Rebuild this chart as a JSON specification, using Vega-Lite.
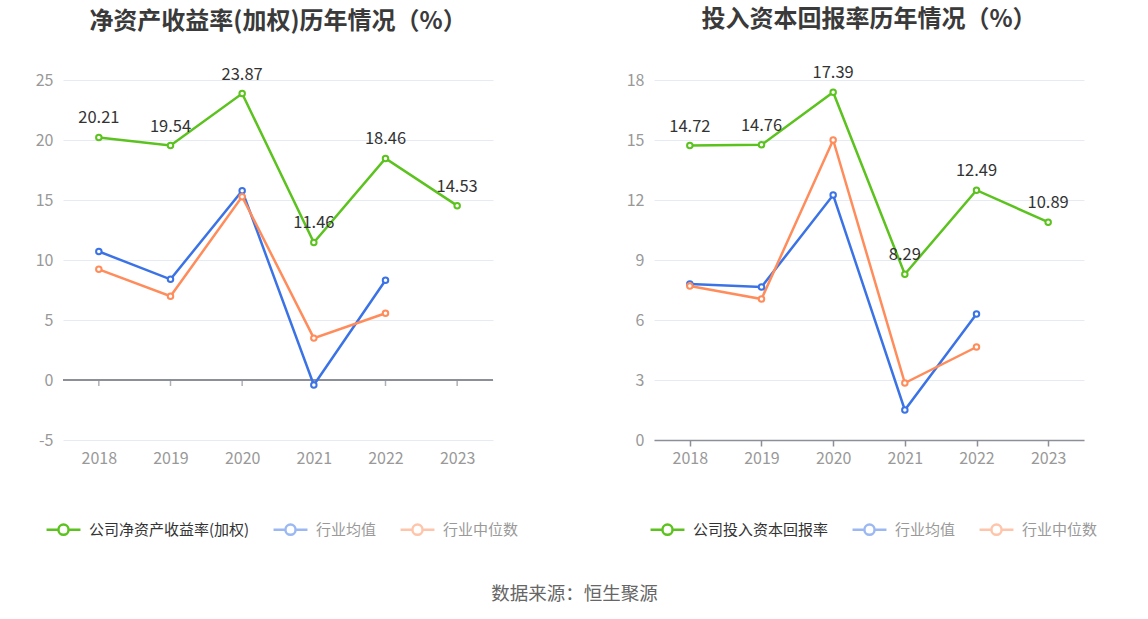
{
  "$schema": "https://vega.github.io/schema/vega-lite/v6.json",
  "background": "#ffffff",
  "padding": {"left": 35, "top": 8, "right": 5, "bottom": 5},
  "datasets": {
    "roe": [
      {"year": "2018", "series": "公司净资产收益率(加权)", "value": 20.21},
      {"year": "2019", "series": "公司净资产收益率(加权)", "value": 19.54},
      {"year": "2020", "series": "公司净资产收益率(加权)", "value": 23.87},
      {"year": "2021", "series": "公司净资产收益率(加权)", "value": 11.46},
      {"year": "2022", "series": "公司净资产收益率(加权)", "value": 18.46},
      {"year": "2023", "series": "公司净资产收益率(加权)", "value": 14.53},
      {"year": "2018", "series": "行业均值", "value": 10.71},
      {"year": "2019", "series": "行业均值", "value": 8.39},
      {"year": "2020", "series": "行业均值", "value": 15.78},
      {"year": "2021", "series": "行业均值", "value": -0.42},
      {"year": "2022", "series": "行业均值", "value": 8.31},
      {"year": "2018", "series": "行业中位数", "value": 9.22},
      {"year": "2019", "series": "行业中位数", "value": 6.98},
      {"year": "2020", "series": "行业中位数", "value": 15.28},
      {"year": "2021", "series": "行业中位数", "value": 3.49},
      {"year": "2022", "series": "行业中位数", "value": 5.56}
    ],
    "roic": [
      {"year": "2018", "series": "公司投入资本回报率", "value": 14.72},
      {"year": "2019", "series": "公司投入资本回报率", "value": 14.76},
      {"year": "2020", "series": "公司投入资本回报率", "value": 17.39},
      {"year": "2021", "series": "公司投入资本回报率", "value": 8.29},
      {"year": "2022", "series": "公司投入资本回报率", "value": 12.49},
      {"year": "2023", "series": "公司投入资本回报率", "value": 10.89},
      {"year": "2018", "series": "行业均值", "value": 7.8},
      {"year": "2019", "series": "行业均值", "value": 7.65},
      {"year": "2020", "series": "行业均值", "value": 12.25},
      {"year": "2021", "series": "行业均值", "value": 1.5},
      {"year": "2022", "series": "行业均值", "value": 6.3},
      {"year": "2018", "series": "行业中位数", "value": 7.7},
      {"year": "2019", "series": "行业中位数", "value": 7.05},
      {"year": "2020", "series": "行业中位数", "value": 15.0},
      {"year": "2021", "series": "行业中位数", "value": 2.85},
      {"year": "2022", "series": "行业中位数", "value": 4.65}
    ]
  },
  "title": {
    "text": "数据来源：恒生聚源",
    "orient": "bottom",
    "anchor": "middle",
    "offset": 45,
    "dx": 8,
    "fontSize": 18.5,
    "fontWeight": "normal",
    "color": "#666666",
    "font": "Noto Sans CJK SC"
  },
  "bounds": "flush",
  "spacing": 161,
  "resolve": {"scale": {"color": "independent", "y": "independent"}},
  "hconcat": [
    {
      "width": 430,
      "height": 360,
      "data": {"name": "roe"},
      "title": {
        "text": "净资产收益率(加权)历年情况（%）",
        "frame": "group",
        "anchor": "middle",
        "offset": 33,
        "fontSize": 24,
        "fontWeight": "bold",
        "color": "#3a3a3a",
        "font": "Noto Sans CJK SC"
      },
      "encoding": {
        "x": {
          "field": "year",
          "type": "ordinal",
          "scale": {"type": "point", "padding": 0.5},
          "axis": {"title": null, "labelAngle": 0, "domain": false, "ticks": false, "labelPadding": 10, "labelFontSize": 16, "labelColor": "#999999", "labelFont": "Noto Sans CJK SC"}
        },
        "y": {
          "field": "value",
          "type": "quantitative",
          "scale": {"domain": [-5, 25], "nice": false, "zero": false},
          "axis": {"title": null, "values": [-5, 0, 5, 10, 15, 20, 25], "labelExpr": "replace(datum.label, '−', '-')", "domain": false, "ticks": false, "labelPadding": 10, "labelFontSize": 16, "labelColor": "#999999", "gridColor": "#e6eaf3", "labelFont": "Noto Sans CJK SC"}
        }
      },
      "layer": [
        {
          "mark": {"type": "rule", "color": "#8c8f99", "strokeWidth": 1.5},
          "encoding": {"y": {"datum": 0}, "x": null}
        },
        {
          "transform": [{"filter": "datum.series == '公司净资产收益率(加权)'"}],
          "mark": {"type": "tick", "orient": "vertical", "size": 6, "thickness": 1.5, "color": "#8c8f99", "yOffset": 3},
          "encoding": {"y": {"datum": 0}}
        },
        {
          "mark": {"type": "line", "strokeWidth": 2.5, "point": {"filled": false, "fill": "#ffffff", "size": 30, "strokeWidth": 2}},
          "encoding": {
            "color": {
              "field": "series",
              "type": "nominal",
              "sort": ["公司净资产收益率(加权)", "行业均值", "行业中位数"],
              "scale": {"domain": ["公司净资产收益率(加权)", "行业均值", "行业中位数"], "range": ["#5bc21e", "#3b73e6", "#ff8c5a"]},
              "legend": {
                "orient": "none",
                "legendX": -18,
                "legendY": 431,
                "direction": "horizontal",
                "title": null,
                "symbolType": "M-1,0H-0.3M0.3,0H1M0.3,0A0.3,0.3,0,1,1,-0.3,0A0.3,0.3,0,1,1,0.3,0",
                "symbolSize": 1150,
                "symbolStrokeWidth": 2.5,
                "symbolFillColor": "#ffffff",
                "symbolOpacity": {"expr": "datum.index == 0 ? 1 : 0.5"},
                "labelColor": {"expr": "datum.index == 0 ? '#333333' : '#999999'"},
                "labelFontSize": 15,
                "labelFont": "Noto Sans CJK SC",
                "labelOffset": 7,
                "columnPadding": 18,
                "labelLimit": 300
              }
            }
          }
        },
        {
          "transform": [{"filter": "datum.series == '公司净资产收益率(加权)'"}],
          "mark": {"type": "text", "dy": -19, "fontSize": 16.5, "color": "#333333", "font": "Noto Sans CJK SC"},
          "encoding": {"text": {"field": "value", "type": "quantitative", "format": ".2f"}}
        }
      ]
    },
    {
      "width": 430,
      "height": 360,
      "data": {"name": "roic"},
      "title": {
        "text": "投入资本回报率历年情况（%）",
        "frame": "group",
        "anchor": "middle",
        "offset": 33,
        "fontSize": 24,
        "fontWeight": "bold",
        "color": "#3a3a3a",
        "font": "Noto Sans CJK SC"
      },
      "encoding": {
        "x": {
          "field": "year",
          "type": "ordinal",
          "scale": {"type": "point", "padding": 0.5},
          "axis": {"title": null, "labelAngle": 0, "domainColor": "#8c8f99", "domainWidth": 1.5, "tickColor": "#8c8f99", "tickWidth": 1.5, "tickSize": 6, "labelPadding": 4, "labelFontSize": 16, "labelColor": "#999999", "labelFont": "Noto Sans CJK SC"}
        },
        "y": {
          "field": "value",
          "type": "quantitative",
          "scale": {"domain": [0, 18], "nice": false},
          "axis": {"title": null, "values": [0, 3, 6, 9, 12, 15, 18], "domain": false, "ticks": false, "labelPadding": 10, "labelFontSize": 16, "labelColor": "#999999", "gridColor": "#e6eaf3", "labelFont": "Noto Sans CJK SC"}
        }
      },
      "layer": [
        {
          "mark": {"type": "line", "strokeWidth": 2.5, "point": {"filled": false, "fill": "#ffffff", "size": 30, "strokeWidth": 2}},
          "encoding": {
            "color": {
              "field": "series",
              "type": "nominal",
              "sort": ["公司投入资本回报率", "行业均值", "行业中位数"],
              "scale": {"domain": ["公司投入资本回报率", "行业均值", "行业中位数"], "range": ["#5bc21e", "#3b73e6", "#ff8c5a"]},
              "legend": {
                "orient": "none",
                "legendX": -5,
                "legendY": 431,
                "direction": "horizontal",
                "title": null,
                "symbolType": "M-1,0H-0.3M0.3,0H1M0.3,0A0.3,0.3,0,1,1,-0.3,0A0.3,0.3,0,1,1,0.3,0",
                "symbolSize": 1150,
                "symbolStrokeWidth": 2.5,
                "symbolFillColor": "#ffffff",
                "symbolOpacity": {"expr": "datum.index == 0 ? 1 : 0.5"},
                "labelColor": {"expr": "datum.index == 0 ? '#333333' : '#999999'"},
                "labelFontSize": 15,
                "labelFont": "Noto Sans CJK SC",
                "labelOffset": 7,
                "columnPadding": 18,
                "labelLimit": 300
              }
            }
          }
        },
        {
          "transform": [{"filter": "datum.series == '公司投入资本回报率'"}],
          "mark": {"type": "text", "dy": -19, "fontSize": 16.5, "color": "#333333", "font": "Noto Sans CJK SC"},
          "encoding": {"text": {"field": "value", "type": "quantitative", "format": ".2f"}}
        }
      ]
    }
  ],
  "config": {
    "view": {"stroke": null},
    "font": "Noto Sans CJK SC"
  }
}
